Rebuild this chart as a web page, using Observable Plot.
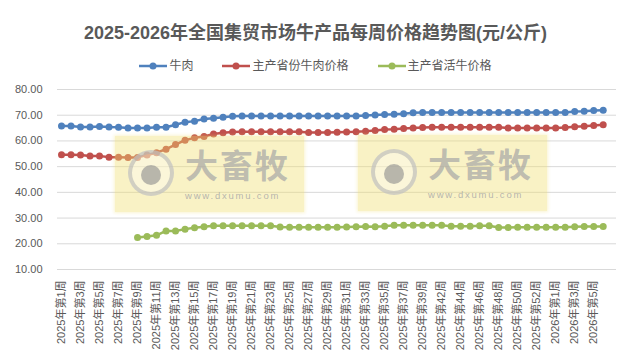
<!DOCTYPE html>
<html><head><meta charset="utf-8">
<script src="https://cdn.jsdelivr.net/npm/d3@7"></script>
<script src="https://cdn.jsdelivr.net/npm/@observablehq/plot@0.6"></script>
<style>
body{margin:0;background:#fff;}
#wrap{position:relative;width:631px;height:359px;overflow:hidden;font-family:"Liberation Sans","Noto Sans CJK SC",sans-serif;color:#595959;}
#title{height:54px;box-sizing:border-box;padding-top:24px;text-align:center;font-weight:bold;font-size:18px;line-height:18px;color:#595959;}
#legend{height:24px;display:flex;justify-content:center;align-items:center;gap:29px;font-size:12px;line-height:24px;}
.item{display:flex;align-items:center;gap:2px;}
#chart svg{display:block;}
.wm{position:absolute;width:189px;height:76px;background:rgba(240,222,110,0.4);box-shadow:0 0 3px 1px rgba(240,222,110,0.3);pointer-events:none;}
.wm .ring{position:absolute;left:13px;top:14px;width:46px;height:46px;border-radius:50%;border:4px solid rgba(175,175,175,0.55);box-sizing:border-box;background:rgba(255,255,255,0.35);}
.wm .eye{position:absolute;left:26px;top:29px;width:20px;height:20px;border-radius:50%;background:rgba(140,140,140,0.6);}
.wm .brand{position:absolute;left:70px;top:12px;font-size:33px;font-weight:bold;line-height:33px;letter-spacing:2px;color:rgba(165,165,165,0.7);font-family:"Noto Sans CJK SC",sans-serif;white-space:nowrap;}
.wm .url{position:absolute;left:70px;top:55px;font-size:9.5px;line-height:10px;letter-spacing:1.8px;color:rgba(165,165,165,0.8);white-space:nowrap;}
</style>
</head><body>
<div id="wrap">
  <div id="title">2025-2026年全国集贸市场牛产品每周价格趋势图(元/公斤)</div>
  <div id="legend"></div>
  <div id="chart"></div>
</div>
<script>
const categories = [
  "2025年第1周","2025年第2周","2025年第3周","2025年第4周","2025年第5周","2025年第6周","2025年第7周","2025年第8周","2025年第9周","2025年第10周",
  "2025年第11周","2025年第12周","2025年第13周","2025年第14周","2025年第15周","2025年第16周","2025年第17周","2025年第18周","2025年第19周","2025年第20周",
  "2025年第21周","2025年第22周","2025年第23周","2025年第24周","2025年第25周","2025年第26周","2025年第27周","2025年第28周","2025年第29周","2025年第30周",
  "2025年第31周","2025年第32周","2025年第33周","2025年第34周","2025年第35周","2025年第36周","2025年第37周","2025年第38周","2025年第39周","2025年第41周",
  "2025年第42周","2025年第43周","2025年第44周","2025年第45周","2025年第46周","2025年第47周","2025年第48周","2025年第49周","2025年第50周","2025年第51周",
  "2025年第52周","2025年第53周","2026年第1周","2026年第2周","2026年第3周","2026年第4周","2026年第5周","2026年第6周"
];
const seriesNames = ["牛肉","主产省份牛肉价格","主产省活牛价格"];
const seriesColors = ["#4f81bd","#c0504d","#9bbb59"];
const beef = [
  65.8,65.8,65.4,65.4,65.6,65.4,65.3,65.0,65.0,65.0,65.3,65.3,66.3,67.3,67.7,68.5,68.8,69.2,69.6,
  69.7,69.7,69.7,69.7,69.7,69.7,69.7,69.7,69.7,69.7,69.7,69.7,69.7,
  69.9,70.1,70.3,70.4,70.6,71.0,
  71.1,71.1,71.1,71.1,71.1,71.1,71.1,71.1,71.1,71.1,71.1,71.1,71.1,71.1,71.1,71.1,
  71.4,71.5,71.8,71.9
];
const provinceBeef = [
  54.6,54.6,54.5,54.1,54.1,53.7,53.7,53.6,53.6,54.5,55.4,56.8,58.6,60.3,61.2,61.7,62.7,63.2,63.5,
  63.6,63.6,63.6,63.6,63.6,63.6,63.6,
  63.3,63.3,63.3,
  63.4,63.5,63.6,63.8,64.1,64.4,64.5,64.8,65.0,65.2,
  65.3,65.3,65.3,65.3,65.3,65.3,65.3,65.3,
  65.0,65.0,65.0,65.0,65.0,65.0,
  65.2,65.5,65.7,66.0,66.3
];
const liveCattle = [
  null,null,null,null,null,null,null,null,
  22.4,22.8,23.3,25.0,25.0,25.7,26.2,26.6,
  27.0,27.0,27.0,27.0,27.0,27.0,27.0,
  26.5,
  26.4,26.4,26.4,26.4,26.4,26.4,
  26.5,26.6,26.7,26.6,26.8,
  27.2,27.2,27.2,27.2,27.2,27.2,
  26.8,26.8,26.8,
  27.0,27.0,
  26.3,26.3,26.4,26.4,26.4,26.4,26.4,26.4,
  26.6,
  26.7,26.7,26.7
];
const yTicks = [10,20,30,40,50,60,70,80];
const tickLabels = categories.filter((d, i) => i % 2 === 0);

const seriesValues = [beef, provinceBeef, liveCattle];
const rows = [];
seriesNames.forEach((name, s) => {
  categories.forEach((week, i) => {
    const v = seriesValues[s][i];
    rows.push({series: name, week, value: v == null ? NaN : v});
  });
});

// legend
const legend = document.getElementById("legend");
seriesNames.forEach((name, i) => {
  const item = document.createElement("div");
  item.className = "item";
  item.innerHTML = `<svg width="28" height="10"><line x1="0" x2="28" y1="5" y2="5" stroke="${seriesColors[i]}" stroke-width="2.5"/><circle cx="14" cy="5" r="3.5" fill="${seriesColors[i]}"/></svg><span>${name}</span>`;
  legend.appendChild(item);
});

const font = '"Liberation Sans","Noto Sans CJK SC",sans-serif';
const chart = Plot.plot({
  width: 631,
  height: 281,
  marginTop: 11,
  marginBottom: 90,
  marginLeft: 57,
  marginRight: 15,
  style: {fontFamily: font, fontSize: "11px", color: "#595959", background: "transparent", overflow: "visible"},
  x: {type: "point", domain: categories, range: [61, 602.7], padding: 0, round: false, label: null},
  y: {domain: [10, 80], label: null},
  color: {domain: seriesNames, range: seriesColors},
  marks: [
    Plot.ruleY(yTicks, {stroke: "#d9d9d9", strokeWidth: 1}),
    Plot.axisY({ticks: yTicks, tickSize: 0, tickPadding: 15, tickFormat: d => d.toFixed(2), label: null}),
    Plot.axisX({ticks: tickLabels, tickSize: 0, tickRotate: -90, tickPadding: 11, label: null}),
    Plot.line(rows, {x: "week", y: "value", z: "series", stroke: "series", strokeWidth: 2.5, curve: "linear"}),
    Plot.dot(rows, {x: "week", y: "value", fill: "series", r: 3.5, stroke: "none"})
  ]
});
document.getElementById("chart").appendChild(chart);

// watermark overlays
const wrap = document.getElementById("wrap");
[[115,136],[358,135]].forEach(([l,t]) => {
  const w = document.createElement("div");
  w.className = "wm";
  w.style.left = l + "px";
  w.style.top = t + "px";
  w.innerHTML = '<div class="ring"></div><div class="eye"></div><div class="brand">大畜牧</div><div class="url">www.dxumu.com</div>';
  wrap.appendChild(w);
});
</script>
</body></html>
